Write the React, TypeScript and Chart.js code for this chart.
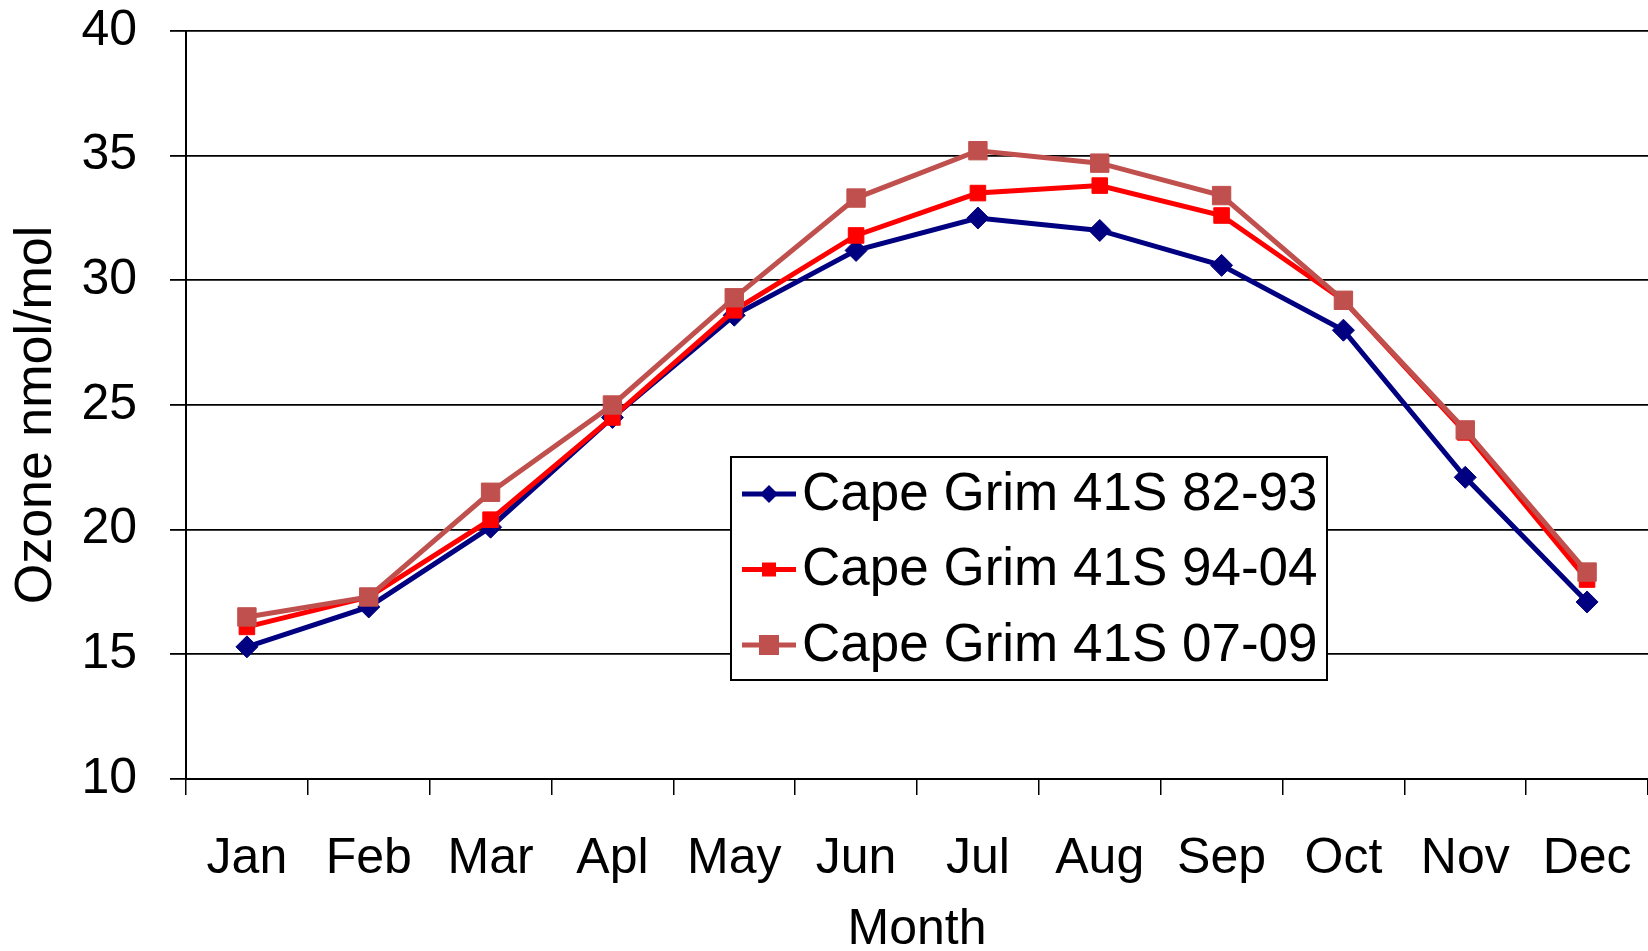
import React, { useEffect, useRef } from 'react';
import { Chart, registerables } from 'chart.js';

Chart.register(...registerables);

const months = ['Jan', 'Feb', 'Mar', 'Apl', 'May', 'Jun', 'Jul', 'Aug', 'Sep', 'Oct', 'Nov', 'Dec'];
const series8293 = [15.3, 16.9, 20.1, 24.5, 28.6, 31.2, 32.5, 32.0, 30.6, 28.0, 22.1, 17.1];
const series9404 = [16.1, 17.3, 20.4, 24.5, 28.8, 31.8, 33.5, 33.8, 32.6, 29.2, 23.9, 18.0];
const series0709 = [16.5, 17.3, 21.5, 25.0, 29.3, 33.3, 35.2, 34.7, 33.4, 29.2, 24.0, 18.3];
const seriesLabels = ['Cape Grim 41S 82-93', 'Cape Grim 41S 94-04', 'Cape Grim 41S 07-09'];
const yTitle = 'Ozone nmol/mol';
const xTitle = 'Month';
const yMin = 10;
const yMax = 40;
const yStep = 5;

const FONT = "'Liberation Sans', Arial, sans-serif";

const yTitlePlugin = {
  id: 'yTitle',
  afterDraw(chart: any) {
    const ctx = chart.ctx as CanvasRenderingContext2D;
    ctx.save();
    ctx.translate(37, 415);
    ctx.rotate(-Math.PI / 2);
    ctx.fillStyle = '#000000';
    ctx.font = `52px ${FONT}`;
    ctx.textAlign = 'center';
    ctx.textBaseline = 'middle';
    ctx.fillText(yTitle, 0, 0);
    ctx.restore();
  },
};

const legendPlugin = {
  id: 'boxLegend',
  afterDatasetsDraw(chart: any) {
    const ctx = chart.ctx as CanvasRenderingContext2D;
    const bx = 731, by = 457, bw = 596, bh = 223;
    ctx.save();
    ctx.fillStyle = '#ffffff';
    ctx.fillRect(bx, by, bw, bh);
    ctx.strokeStyle = '#000000';
    ctx.lineWidth = 2;
    ctx.strokeRect(bx, by, bw, bh);
    chart.data.datasets.forEach((ds: any, i: number) => {
      const cy = by + 37 + i * 75.5;
      ctx.strokeStyle = ds.borderColor;
      ctx.lineWidth = 5;
      ctx.beginPath();
      ctx.moveTo(742, cy);
      ctx.lineTo(796, cy);
      ctx.stroke();
      ctx.fillStyle = ds.pointBackgroundColor;
      const mx = 769;
      const r = ds.legendMarker;
      ctx.beginPath();
      if (ds.pointStyle === 'rectRot') {
        ctx.moveTo(mx - r, cy);
        ctx.lineTo(mx, cy - r);
        ctx.lineTo(mx + r, cy);
        ctx.lineTo(mx, cy + r);
        ctx.closePath();
      } else {
        ctx.rect(mx - r, cy - r, 2 * r, 2 * r);
      }
      ctx.fill();
      ctx.fillStyle = '#000000';
      ctx.font = `53px ${FONT}`;
      ctx.textAlign = 'left';
      ctx.textBaseline = 'middle';
      ctx.fillText(ds.label, 802, cy + 1);
    });
    ctx.restore();
  },
};

export default function App() {
  const canvasRef = useRef<HTMLCanvasElement | null>(null);

  useEffect(() => {
    document.body.style.margin = '0';
    const canvas = canvasRef.current;
    if (!canvas) return;
    const chart = new Chart(canvas, {
      type: 'line',
      data: {
        labels: months,
        datasets: [
          {
            label: seriesLabels[0],
            data: series8293,
            borderColor: '#000080',
            backgroundColor: '#000080',
            pointBackgroundColor: '#000080',
            pointBorderColor: '#000080',
            pointStyle: 'rectRot',
            pointRadius: 11,
            pointBorderWidth: 1,
            borderWidth: 5,
            tension: 0,
            order: 3,
            legendMarker: 9,
          } as any,
          {
            label: seriesLabels[1],
            data: series9404,
            borderColor: '#ff0000',
            backgroundColor: '#ff0000',
            pointBackgroundColor: '#ff0000',
            pointBorderColor: '#ff0000',
            pointStyle: 'rect',
            pointRadius: 11,
            pointBorderWidth: 1,
            borderWidth: 5,
            tension: 0,
            order: 2,
            legendMarker: 7,
          } as any,
          {
            label: seriesLabels[2],
            data: series0709,
            borderColor: '#c0504d',
            backgroundColor: '#c0504d',
            pointBackgroundColor: '#c0504d',
            pointBorderColor: '#c0504d',
            pointStyle: 'rect',
            pointRadius: 13,
            pointBorderWidth: 1,
            borderWidth: 5,
            tension: 0,
            order: 1,
            legendMarker: 10,
          } as any,
        ],
      },
      options: {
        responsive: false,
        animation: false,
        layout: { autoPadding: false, padding: { top: 31, right: 0, left: 0, bottom: 0 } },
        plugins: {
          legend: { display: false },
          tooltip: { enabled: false },
        },
        scales: {
          x: {
            offset: true,
            grid: {
              offset: true,
              drawOnChartArea: false,
              drawTicks: true,
              tickLength: 16,
              color: '#000000',
              lineWidth: 1.5,
            },
            border: { display: true, color: '#000000', width: 2 },
            ticks: {
              color: '#000000',
              font: { size: 50, family: FONT },
              padding: 34,
              maxRotation: 0,
              autoSkip: false,
            },
            title: {
              display: true,
              text: xTitle,
              color: '#000000',
              font: { size: 50, family: FONT, lineHeight: 0.85 },
              padding: 0,
            },
            afterFit: (s: any) => {
              s.height = 172;
              s.paddingLeft = 0;
              s.paddingRight = 0;
            },
          },
          y: {
            min: yMin,
            max: yMax,
            ticks: {
              stepSize: yStep,
              color: '#000000',
              font: { size: 50, family: FONT },
              padding: 33,
            },
            grid: { color: '#000000', lineWidth: 1.8, tickLength: 16 },
            border: { display: true, color: '#000000', width: 2 },
            title: { display: false },
            afterFit: (s: any) => {
              s.width = 186;
              s.paddingTop = 0;
              s.paddingBottom = 0;
            },
          },
        },
      } as any,
      plugins: [legendPlugin, yTitlePlugin],
    });
    return () => chart.destroy();
  }, []);

  return (
    <div style={{ width: 1648, height: 951, background: '#ffffff' }}>
      <canvas ref={canvasRef} width={1648} height={951} style={{ display: 'block' }} />
    </div>
  );
}
